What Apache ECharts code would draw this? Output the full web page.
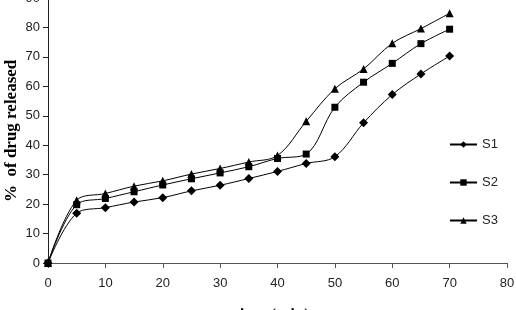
<!DOCTYPE html>
<html>
<head>
<meta charset="utf-8">
<script src="https://cdn.jsdelivr.net/npm/echarts@6/dist/echarts.min.js"></script>
<style>
  html, body { margin: 0; padding: 0; background: #fff; }
  #main { width: 516px; height: 310px; }
</style>
</head>
<body>
<div id="main"></div>
<script>
var times = [0, 5, 10, 15, 20, 25, 30, 35, 40, 45, 50, 55, 60, 65, 70];
var s1 = [0, 16.9, 18.8, 20.7, 22.2, 24.5, 26.4, 28.7, 31.1, 33.8, 36.1, 47.6, 57.2, 64.2, 70.3];
var s2 = [0, 19.8, 21.9, 24.2, 26.5, 28.6, 30.6, 32.7, 35.5, 37.0, 52.9, 61.4, 67.8, 74.5, 79.4];
var s3 = [0, 21.3, 23.6, 26.1, 27.9, 30.2, 32.1, 34.3, 36.5, 48.1, 59.2, 65.9, 74.6, 79.6, 84.8];

var myChart = echarts.init(document.getElementById('main'));

function pairs(ys) {
    return times.map(function (t, i) { return [t, ys[i]]; });
}

function mkSeries(name, ys, sym, size) {
    return {
        name: name,
        type: 'line',
        data: pairs(ys),
        smooth: 0.35,
        symbol: sym,
        symbolSize: size,
        showAllSymbol: true,
        lineStyle: { color: '#000', width: 1 },
        itemStyle: { color: '#000' }
    };
}

var axisFont = { fontFamily: 'Liberation Sans, Arial, sans-serif', fontSize: 13, color: '#222' };

var option = {
    animation: false,
    backgroundColor: '#fff',
    grid: { left: 48, right: 9, top: -2, bottom: 47, outerBoundsMode: 'none', containLabel: false },
    xAxis: {
        type: 'value',
        min: 0, max: 80, interval: 10,
        axisLine: { lineStyle: { color: '#555', width: 1 } },
        axisTick: { show: true, length: 5, inside: false, lineStyle: { color: '#555' } },
        axisLabel: Object.assign({ margin: 14 }, axisFont),
        splitLine: { show: false }
    },
    yAxis: {
        type: 'value',
        min: 0, max: 90, interval: 10,
        axisLine: { show: true, lineStyle: { color: '#222', width: 1 } },
        axisTick: { show: true, length: 5, lineStyle: { color: '#222' } },
        axisLabel: Object.assign({ margin: 8 }, axisFont),
        splitLine: { show: false }
    },
    legend: {
        orient: 'vertical',
        left: 444,
        top: 133,
        itemWidth: 27,
        itemHeight: 8,
        itemGap: 25,
        textStyle: { fontFamily: 'Liberation Sans, Arial, sans-serif', fontSize: 13, color: '#222' },
        data: ['S1', 'S2', 'S3']
    },
    graphic: [
        {
            type: 'text',
            x: 3, y: 202,
            rotation: Math.PI / 2,
            style: {
                text: '%  of drug released',
                font: 'bold 17px "Liberation Serif", "Times New Roman", serif',
                fill: '#000'
            }
        },
        {
            type: 'text',
            x: 234,
            y: 307,
            style: {
                text: 'time (min)',
                font: 'bold 17px "Liberation Serif", "Times New Roman", serif',
                fill: '#000'
            }
        }
    ],
    series: [
        mkSeries('S1', s1, 'diamond', 9),
        mkSeries('S2', s2, 'rect', 7),
        mkSeries('S3', s3, 'triangle', 8)
    ]
};

myChart.setOption(option);
</script>
</body>
</html>
